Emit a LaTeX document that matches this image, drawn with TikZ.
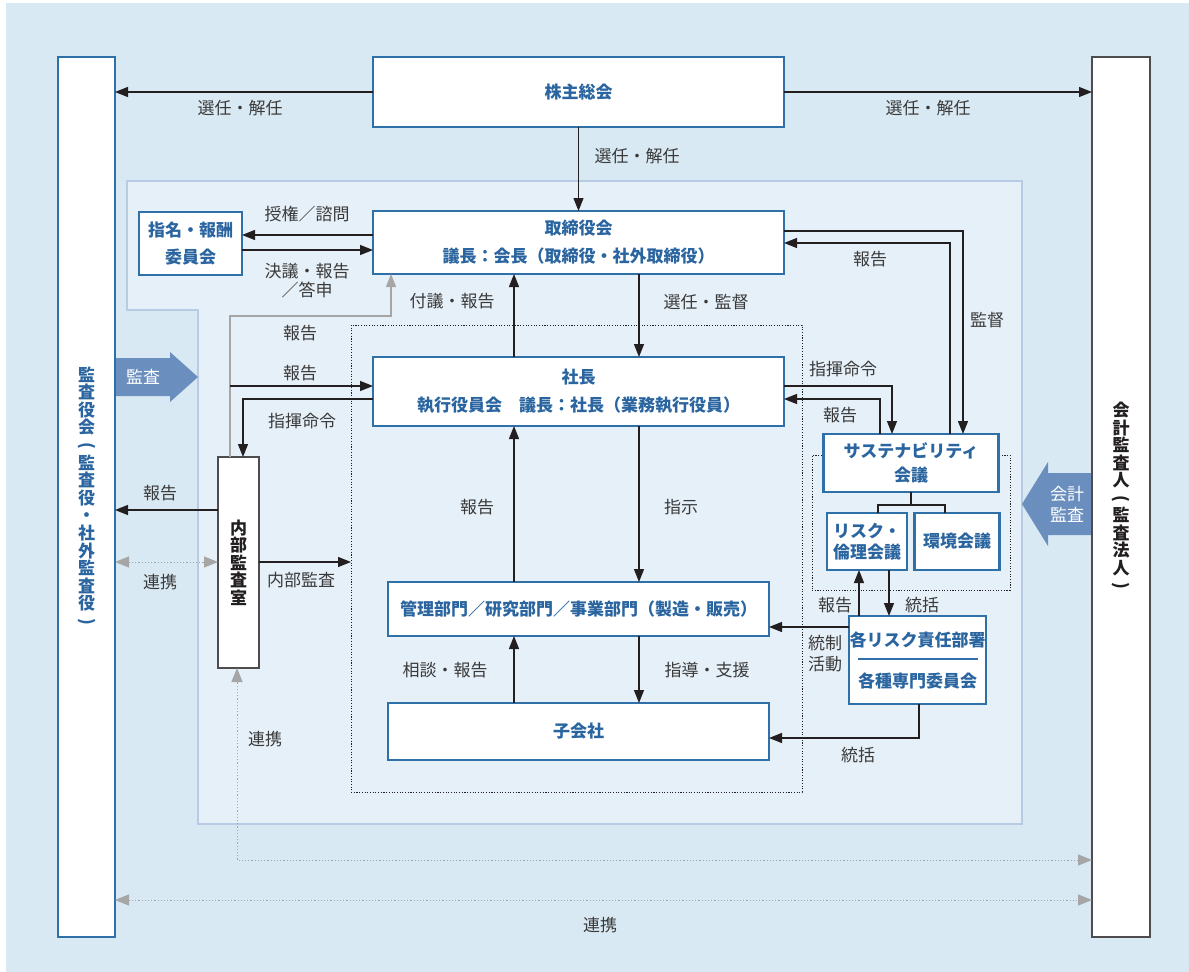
\documentclass[tikz,border=0pt]{standalone}
\usepackage{fontspec}
\usepackage{graphicx}
\setmainfont{Noto Sans CJK JP}
\usetikzlibrary{arrows.meta}
\definecolor{bgout}{HTML}{D9E9F3}
\definecolor{bgin}{HTML}{E6F0F8}
\definecolor{inbord}{HTML}{B7CCE4}
\definecolor{bblue}{HTML}{2F70A8}
\definecolor{tblue}{HTML}{2A65A0}
\definecolor{lgray}{HTML}{3A3A3A}
\definecolor{aline}{HTML}{231F20}
\definecolor{dgray}{HTML}{A6A6A6}
\definecolor{ablue}{HTML}{6A8FBF}
\newcommand{\vlp}{\rotatebox[origin=c]{-90}{(}}
\newcommand{\vrp}{\rotatebox[origin=c]{-90}{)}}
\tikzset{
  bx/.style={draw=bblue, line width=2.2pt, fill=white, text=tblue,
    font=\bfseries\fontsize{17}{28}\selectfont, align=center, inner sep=0pt, outer sep=0pt},
  kbx/.style={draw=aline!80, line width=1.2pt, fill=white, text=aline,
    font=\bfseries\fontsize{17}{17.5}\selectfont, align=center, inner sep=0pt, outer sep=0pt},
  lab/.style={text=lgray, font=\fontsize{17}{20}\selectfont, inner sep=0pt, align=center},
  con/.style={draw=aline, line width=1.3pt, -{Triangle[length=13pt,width=10pt]}},
  plain/.style={draw=aline, line width=1.1pt},
  gcon/.style={draw=dgray, line width=1.5pt, -{Triangle[length=13pt,width=10pt]}},
  dotcon/.style={draw=dgray, line width=1pt, dash pattern=on 1.2pt off 2pt,
    {Triangle[length=14pt,width=11pt,fill=dgray]}-{Triangle[length=14pt,width=11pt,fill=dgray]}},
  dotbox/.style={draw=aline, line width=1pt, dash pattern=on 1.1pt off 1.6pt, inner sep=0pt, outer sep=0pt},
  wlab/.style={text=white, font=\fontsize{17}{21}\selectfont, inner sep=0pt, align=center}
}
\begin{document}
\begin{tikzpicture}[x=1pt,y=-1pt]
\useasboundingbox (0,0) rectangle (1189,972);
\fill[white] (0,0) rectangle (1189,972);
\fill[bgout] (6,3) rectangle (1189,972);
% inner region
\filldraw[fill=bgin, draw=inbord, line width=1.2pt]
  (127,181) -- (1022,181) -- (1022,824) -- (198,824) -- (198,310) -- (127,310) -- cycle;
% dotted groups
\node[dotbox, minimum width=451pt, minimum height=467pt] (exec) at (576.5,558.5) {};
\node[dotbox, minimum width=198pt, minimum height=135pt] (susg) at (911,522.5) {};
% blue audit arrows
\fill[ablue] (115,358) -- (170,358) -- (170,352) -- (198,377) -- (170,402) -- (170,396) -- (115,396) -- cycle;
\node[wlab] (t1) at (143,377) {監査};
\fill[ablue] (1092,473) -- (1048,473) -- (1048,462) -- (1022,504) -- (1048,546) -- (1048,535) -- (1092,535) -- cycle;
\node[wlab] (t2) at (1067,504) {会計\\監査};
% main nodes
\node[bx, minimum width=57pt, minimum height=880pt, font=\bfseries\fontsize{17}{17.6}\selectfont] (kansa) at (86.5,497)
  {監\\査\\役\\会\\\vlp\\監\\査\\役\\・\\社\\外\\監\\査\\役\\\vrp};
\node[kbx, minimum width=58pt, minimum height=880pt] (aud) at (1121,497)
  {会\\計\\監\\査\\人\\\vlp\\監\\査\\法\\人\\\vrp};
\node[bx, minimum width=411pt, minimum height=70pt] (sh) at (578.5,92) {株主総会};
\node[bx, minimum width=411pt, minimum height=63pt] (bd) at (578.5,242.5) {取締役会\\議長：会長（取締役・社外取締役）};
\node[bx, minimum width=103pt, minimum height=63pt, font=\bfseries\fontsize{17}{27}\selectfont] (nc) at (190.5,243.5) {指名・報酬\\委員会};
\node[bx, minimum width=411pt, minimum height=69pt] (pres) at (578.5,391.5) {社長\\執行役員会　議長：社長（業務執行役員）};
\node[bx, minimum width=381pt, minimum height=54pt] (dept) at (578.5,609) {管理部門／研究部門／事業部門（製造・販売）};
\node[bx, minimum width=381pt, minimum height=57pt] (sub) at (578.5,731.5) {子会社};
\node[kbx, minimum width=41pt, minimum height=211pt] (ia) at (238.5,562.5) {内\\部\\監\\査\\室};
\node[bx, minimum width=175pt, minimum height=58pt, font=\bfseries\fontsize{17}{24}\selectfont] (sus) at (911,463) {サステナビリティ\\会議};
\node[bx, minimum width=80pt, minimum height=57pt, font=\bfseries\fontsize{17}{21}\selectfont] (risk) at (867,541.5) {リスク・\\倫理会議};
\node[bx, minimum width=85pt, minimum height=57pt] (env) at (957,541.5) {環境会議};
\node[bx, minimum width=137pt, minimum height=88pt] (rd) at (917.5,660) {};
\node[text=tblue, font=\bfseries\fontsize{17}{20}\selectfont, inner sep=0pt] (rd1) at (917.5,640) {各リスク責任部署};
\node[text=tblue, font=\bfseries\fontsize{17}{20}\selectfont, inner sep=0pt] (rd2) at (917.5,681) {各種専門委員会};
\draw[bblue, line width=1.2pt] (858,659) -- (978,659);
% helper coordinates
\coordinate (xL) at (514,0);
\coordinate (xR) at (639,0);
\coordinate (h235) at (0,235);
\coordinate (h250) at (0,250);
\coordinate (h316) at (0,316);
\coordinate (h386) at (0,386);
\coordinate (h399) at (0,399);
\coordinate (h510) at (0,510);
\coordinate (h562) at (0,562);
\coordinate (h860) at (0,860);
\coordinate (h900) at (0,900);
\coordinate (h231) at (0,231);
\coordinate (h243) at (0,243);
\coordinate (h505) at (0,505);
\coordinate (h627) at (0,627);
\coordinate (h738) at (0,738);
\coordinate (v230) at (230,0);
\coordinate (x243) at (243,0);
\coordinate (x237) at (237,0);
\coordinate (x391) at (391,0);
\coordinate (x963) at (963,0);
\coordinate (x950) at (950,0);
\coordinate (x892) at (892,0);
\coordinate (x880) at (880,0);
\coordinate (x878) at (878,0);
\coordinate (x945) at (945,0);
\coordinate (x859) at (859,0);
\coordinate (x889) at (889,0);
\coordinate (x919) at (919,0);
% connectors
\draw[con] (sh.west) -- (sh.west -| kansa.east);
\draw[con] (sh.east) -- (sh.east -| aud.west);
\draw[con] (sh.south) -- (bd.north);
\draw[con] (bd.west |- h235) -- (nc.east |- h235);
\draw[con] (nc.east |- h250) -- (bd.west |- h250);
\draw[con] (pres.north -| xL) -- (bd.south -| xL);
\draw[con] (bd.south -| xR) -- (pres.north -| xR);
\draw[gcon] (ia.north -| v230) -- (v230 |- h316) -- (x391 |- h316) -- (bd.south -| x391);
\draw[con] (v230 |- h386) -- (pres.west |- h386);
\draw[con] (pres.west |- h399) -- (x243 |- h399) -- (ia.north -| x243);
\draw[con] (ia.west |- h510) -- (kansa.east |- h510);
\draw[dotcon] (kansa.east |- h562) -- (ia.west |- h562);
\draw[con] (ia.east |- h562) -- (exec.west |- h562);
\draw[con] (dept.north -| xL) -- (pres.south -| xL);
\draw[con] (pres.south -| xR) -- (dept.north -| xR);
\draw[con] (sub.north -| xL) -- (dept.south -| xL);
\draw[con] (dept.south -| xR) -- (sub.north -| xR);
\draw[dotcon] (aud.west |- h860) -- (x237 |- h860) -- (ia.south -| x237);
\draw[dotcon] (kansa.east |- h900) -- (aud.west |- h900);
\draw[con] (bd.east |- h231) -- (x963 |- h231) -- (sus.north -| x963);
\draw[con] (sus.north -| x950) -- (x950 |- h243) -- (bd.east |- h243);
\draw[con] (pres.east |- h386) -- (x892 |- h386) -- (sus.north -| x892);
\draw[con] (sus.north -| x880) -- (x880 |- h399) -- (pres.east |- h399);
\draw[plain] (sus.south) -- (sus.south |- h505);
\draw[plain] (risk.north -| x878) -- (x878 |- h505) -- (x945 |- h505) -- (env.north -| x945);
\draw[con] (rd.north -| x859) -- (risk.south -| x859);
\draw[con] (risk.south -| x889) -- (rd.north -| x889);
\draw[con] (rd.west |- h627) -- (dept.east |- h627);
\draw[con] (rd.south -| x919) -- (x919 |- h738) -- (sub.east |- h738);
% labels
\node[lab] (l1) at (240,108) {選任・解任};
\node[lab] (l2) at (928,108) {選任・解任};
\node[lab] (l3) at (637,156) {選任・解任};
\node[lab] (l4) at (307,214) {授権／諮問};
\node[lab, font=\fontsize{17}{19}\selectfont] (l5) at (307,281) {決議・報告\\／答申};
\node[lab] (l6) at (452,301) {付議・報告};
\node[lab] (l7) at (706,302) {選任・監督};
\node[lab] (l8) at (300,333) {報告};
\node[lab] (l9) at (300,373) {報告};
\node[lab] (l10) at (302,421) {指揮命令};
\node[lab] (l11) at (160,493) {報告};
\node[lab] (l12) at (160,582) {連携};
\node[lab] (l13) at (301,580) {内部監査};
\node[lab] (l14) at (477,507) {報告};
\node[lab] (l15) at (681,507) {指示};
\node[lab] (l16) at (445,670) {相談・報告};
\node[lab] (l17) at (707,670) {指導・支援};
\node[lab] (l18) at (265,739) {連携};
\node[lab] (l19) at (600,925) {連携};
\node[lab] (l20) at (870,259) {報告};
\node[lab] (l21) at (987,320) {監督};
\node[lab] (l22) at (843,369) {指揮命令};
\node[lab] (l23) at (840,415) {報告};
\node[lab] (l24) at (835,605) {報告};
\node[lab] (l25) at (922,605) {統括};
\node[lab, font=\fontsize{17}{21}\selectfont] (l26) at (825,654) {統制\\活動};
\node[lab] (l27) at (858,755) {統括};
\end{tikzpicture}
\end{document}
